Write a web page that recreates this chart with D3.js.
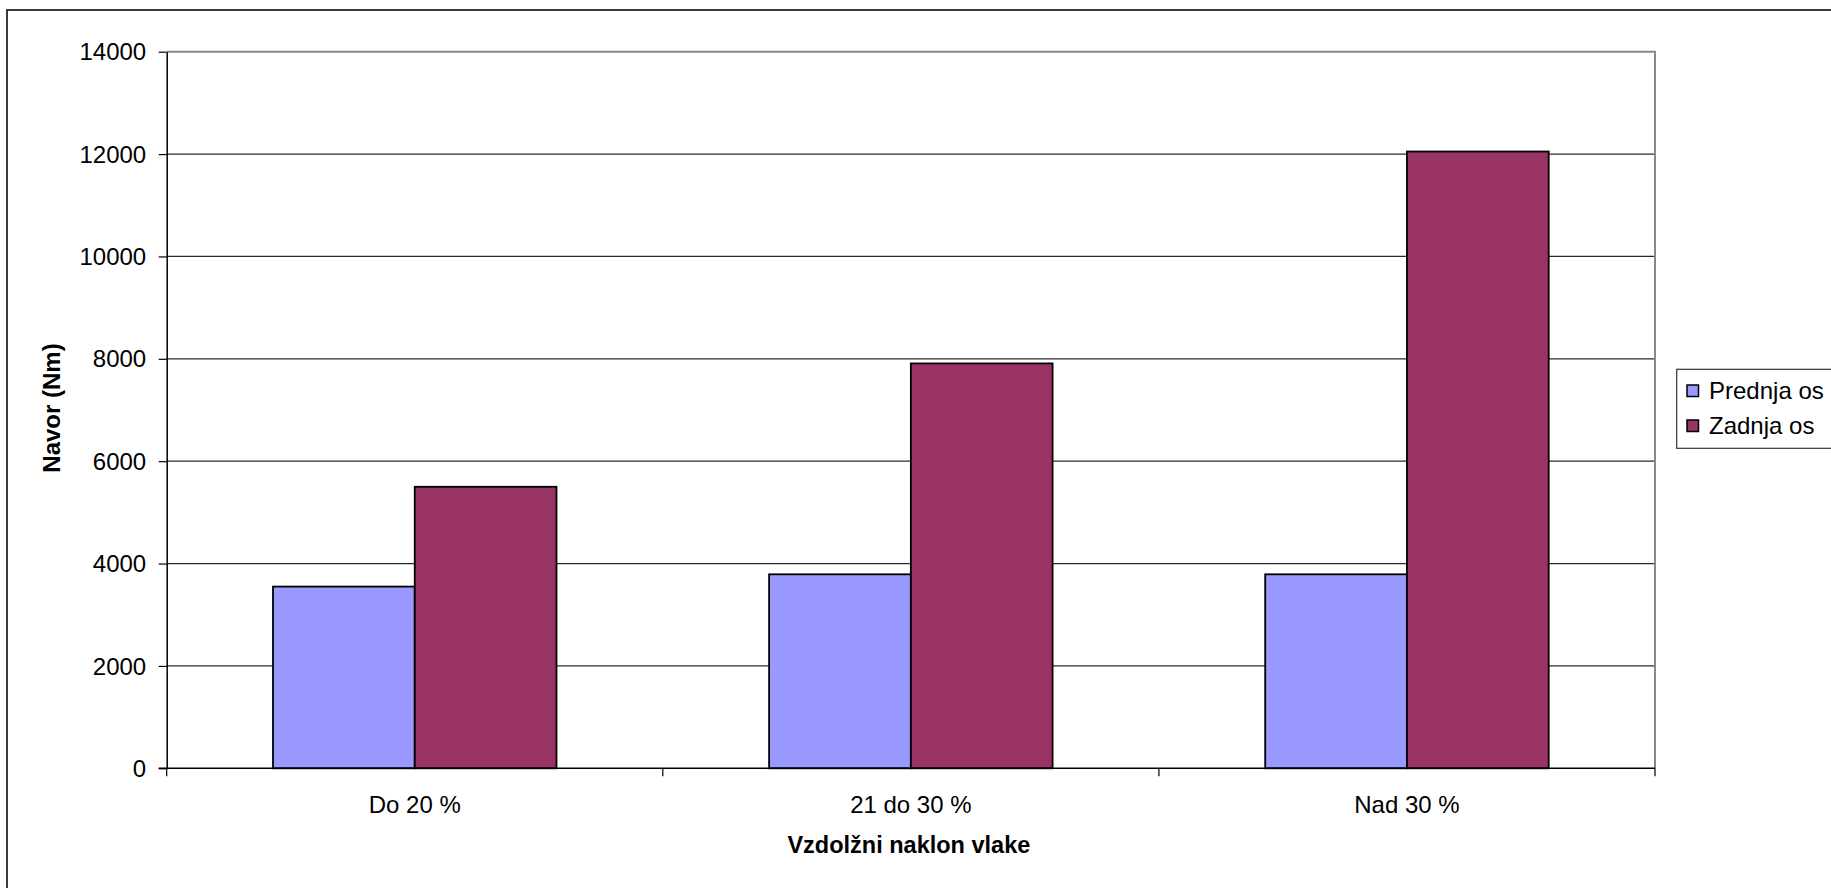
<!DOCTYPE html>
<html>
<head>
<meta charset="utf-8">
<script src="https://cdn.jsdelivr.net/npm/d3@7"></script>
<style>
  html, body { margin: 0; padding: 0; background: #fff; }
  svg { display: block; }
  text { font-family: "Liberation Sans", Arial, sans-serif; fill: #000; }
</style>
</head>
<body>
<svg id="chart" width="1831" height="888"></svg>
<script>
// Torque on front and rear axle by longitudinal slope class
const categories = ["Do 20 %", "21 do 30 %", "Nad 30 %"];
const seriesNames = ["Prednja os", "Zadnja os"];
const prednjaOs = [3550, 3790, 3790];
const zadnjaOs = [5500, 7910, 12050];
const yTicks = [0, 2000, 4000, 6000, 8000, 10000, 12000, 14000];
const seriesColors = ["#9999FF", "#993366"];
const xTitle = "Vzdolžni naklon vlake";
const yTitle = "Navor (Nm)";

const seriesValues = [prednjaOs, zadnjaOs];

const W = 1831, H = 888;
const plot = { left: 166.7, top: 51.7, right: 1655, bottom: 768.3 };

const svg = d3.select("#chart");
svg.append("rect").attr("width", W).attr("height", H).attr("fill", "#fff");

// outer chart frame (runs past the right and bottom edges)
svg.append("rect")
  .attr("x", 7).attr("y", 10)
  .attr("width", W + 20).attr("height", H + 20)
  .attr("fill", "none").attr("stroke", "#3a3a3a").attr("stroke-width", 2);

const x0 = d3.scaleBand().domain(categories).range([plot.left, plot.right]).padding(0);
const x1 = d3.scaleBand().domain(seriesNames).range([0, x0.bandwidth()])
  .paddingInner(0).paddingOuter(0.75);
const y = d3.scaleLinear().domain([0, 14000]).range([plot.bottom, plot.top]);

// horizontal gridlines
svg.append("g").selectAll("line")
  .data(yTicks.filter(d => d > 0 && d < 14000))
  .join("line")
  .attr("x1", plot.left).attr("x2", plot.right)
  .attr("y1", d => y(d)).attr("y2", d => y(d))
  .attr("stroke", "#2a2a2a").attr("stroke-width", 1.2);

// plot area frame: top and right edges
svg.append("path")
  .attr("d", `M${plot.left},${y(14000)}H${plot.right}V${plot.bottom}`)
  .attr("fill", "none").attr("stroke", "#888").attr("stroke-width", 2);

// bars
const groups = svg.append("g").selectAll("g")
  .data(categories)
  .join("g")
  .attr("transform", d => `translate(${x0(d)},0)`);

groups.selectAll("rect")
  .data((c, i) => seriesNames.map((s, j) => ({ s, v: seriesValues[j][i], j })))
  .join("rect")
  .attr("x", d => x1(d.s))
  .attr("y", d => y(d.v))
  .attr("width", x1.bandwidth())
  .attr("height", d => y(0) - y(d.v))
  .attr("fill", d => seriesColors[d.j])
  .attr("stroke", "#000").attr("stroke-width", 1.8);

// y axis
const yAxis = d3.axisLeft(y).tickValues(yTicks).tickFormat(d3.format("d"))
  .tickSize(8).tickSizeOuter(0).tickPadding(12.5);
const gy = svg.append("g").attr("transform", `translate(${plot.left},0)`).call(yAxis);
gy.select(".domain").attr("stroke", "#000").attr("stroke-width", 1.5);
gy.selectAll(".tick line").attr("stroke", "#000").attr("stroke-width", 1.2);
gy.selectAll(".tick text")
  .attr("font-family", "Liberation Sans, Arial, sans-serif")
  .attr("font-size", 24).attr("dy", "0.34em").attr("fill", "#000");

// x axis line and tick marks at category boundaries
const gx = svg.append("g");
gx.append("line")
  .attr("x1", plot.left - 8).attr("x2", plot.right)
  .attr("y1", plot.bottom).attr("y2", plot.bottom)
  .attr("stroke", "#000").attr("stroke-width", 1.5);
const bounds = categories.map(c => x0(c)).concat([x0.range()[1]]);
gx.selectAll("line.tk").data(bounds).join("line").attr("class", "tk")
  .attr("x1", d => d).attr("x2", d => d)
  .attr("y1", plot.bottom).attr("y2", plot.bottom + 8)
  .attr("stroke", "#000").attr("stroke-width", 1.2);
gx.selectAll("text").data(categories).join("text")
  .attr("x", d => x0(d) + x0.bandwidth() / 2)
  .attr("y", 813)
  .attr("text-anchor", "middle")
  .attr("font-size", 24)
  .text(d => d);

// axis titles
svg.append("text")
  .attr("x", (plot.left + plot.right) / 2 - 2).attr("y", 853)
  .attr("text-anchor", "middle")
  .attr("font-size", 23.5).attr("font-weight", "bold")
  .text(xTitle);

svg.append("text")
  .attr("transform", `translate(60,${(plot.top + plot.bottom) / 2 - 2}) rotate(-90)`)
  .attr("text-anchor", "middle")
  .attr("font-size", 24).attr("font-weight", "bold")
  .text(yTitle);

// legend
const lg = svg.append("g");
lg.append("rect")
  .attr("x", 1676.7).attr("y", 369.3)
  .attr("width", 180).attr("height", 79)
  .attr("fill", "#fff").attr("stroke", "#333").attr("stroke-width", 1.2);
const items = lg.selectAll("g").data(seriesNames).join("g")
  .attr("transform", (d, i) => `translate(0,${i * 35})`);
items.append("rect")
  .attr("x", 1687).attr("y", 385)
  .attr("width", 11.5).attr("height", 11.5)
  .attr("fill", (d, i) => seriesColors[i])
  .attr("stroke", "#000").attr("stroke-width", 1.5);
items.append("text")
  .attr("x", 1709).attr("y", 399)
  .attr("font-size", 24)
  .text(d => d);
</script>
</body>
</html>
